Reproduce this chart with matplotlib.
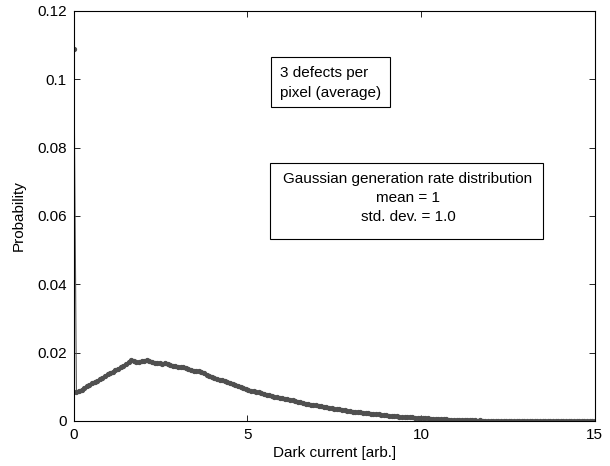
import numpy as np
import matplotlib.pyplot as plt
from matplotlib.patches import Rectangle

plt.rcParams['font.family'] = ['Liberation Sans', 'DejaVu Sans']
plt.rcParams['font.size'] = 11

# dark current histogram, bins of 0.075 from 0 to 15
bin_width = 0.075
prob = [
    0.1090, 0.0085, 0.0088, 0.0092, 0.0097, 0.0101, 0.0105, 0.0110, 0.0114, 0.0117,
    0.0122, 0.0127, 0.0131, 0.0137, 0.0140, 0.0144, 0.0149, 0.0152, 0.0158, 0.0161,
    0.0168, 0.0174, 0.0179, 0.0177, 0.0173, 0.0174, 0.0176, 0.0177, 0.0179, 0.0175,
    0.0172, 0.0171, 0.0170, 0.0169, 0.0168, 0.0169, 0.0166, 0.0164, 0.0162, 0.0161,
    0.0159, 0.0157, 0.0157, 0.0154, 0.0151, 0.0149, 0.0147, 0.0145, 0.0147, 0.0143,
    0.0139, 0.0135, 0.0132, 0.0129, 0.0127, 0.0124, 0.0121, 0.0119, 0.0116, 0.0114,
    0.0111, 0.0108, 0.0105, 0.0102, 0.0099, 0.0097, 0.0094, 0.0091, 0.0089, 0.0087,
    0.0086, 0.0084, 0.0082, 0.0079, 0.0077, 0.0075, 0.0073, 0.0071, 0.0070, 0.0068,
    0.0067, 0.0065, 0.0063, 0.0061, 0.0060, 0.0058, 0.0056, 0.0055, 0.0053, 0.0051,
    0.0050, 0.0048, 0.0047, 0.0046, 0.0044, 0.0043, 0.0042, 0.0041, 0.0039, 0.0038,
    0.0036, 0.0035, 0.0034, 0.0032, 0.0031, 0.0030, 0.0029, 0.0027, 0.0026, 0.0025,
    0.0025, 0.0024, 0.0023, 0.0022, 0.0021, 0.0021, 0.0019, 0.0019, 0.0018, 0.0017,
    0.0017, 0.0016, 0.0015, 0.0015, 0.0014, 0.0013, 0.0013, 0.0012, 0.0012, 0.0011,
    0.0011, 0.0010, 0.0010, 0.0009, 0.0009, 0.0008, 0.0008, 0.0007, 0.0007, 0.0006,
    0.0006, 0.0005, 0.0005, 0.0005, 0.0004, 0.0004, 0.0004, 0.0003, 0.0003, 0.0003,
    0.0002, 0.0002, 0.0002, 0.0002, 0.0002, 0.0001, 0.0002, 0.0001, 0.0001, 0.0001,
    0.0001, 0.0001, 0.0001, 0.0000, 0.0001, 0.0001, 0.0000, 0.0001, 0.0000, 0.0000,
    0.0001, 0.0000, 0.0000, 0.0000, 0.0000, 0.0000, 0.0000, 0.0000, 0.0000, 0.0000,
    0.0000, 0.0000, 0.0000, 0.0000, 0.0000, 0.0000, 0.0000, 0.0000, 0.0000, 0.0000,
    0.0000, 0.0000, 0.0000, 0.0000, 0.0000, 0.0000, 0.0000, 0.0000, 0.0000, 0.0000,
    0.0000,
]
current = np.arange(len(prob)) * bin_width

fig = plt.figure(figsize=(6.1, 4.66), dpi=100)
ax = fig.add_axes([0.121, 0.0966, 0.854, 0.8798])

ax.plot(current, prob, color='#5a5a5a', lw=0.8, marker='o', ms=2.8,
        mfc='#505050', mec='#505050')

ax.set_xlim(0, 15)
ax.set_ylim(0, 0.12)
ax.set_xticks([0, 5, 10, 15])
ax.set_yticks(np.arange(0, 0.121, 0.02))
ax.set_yticklabels(['0', '0.02', '0.04', '0.06', '0.08', '0.1', '0.12'])
ax.tick_params(direction='in', top=True, right=True, length=4, width=0.6, pad=5)
for s in ax.spines.values():
    s.set_linewidth(0.8)

ax.set_xlabel('Dark current [arb.]', labelpad=3)
ax.set_ylabel('Probability', labelpad=8)

# annotation boxes (figure coordinates)
fig.add_artist(Rectangle((0.4443, 0.7704), 0.195, 0.1073, transform=fig.transFigure,
                         fc='white', ec='black', lw=0.8))
fig.text(0.459, 0.8426, '3 defects per', ha='left', va='center')
fig.text(0.459, 0.7997, 'pixel (average)', ha='left', va='center')

fig.add_artist(Rectangle((0.4426, 0.4871), 0.4475, 0.1631, transform=fig.transFigure,
                         fc='white', ec='black', lw=0.8))
box_lines = ['Gaussian generation rate distribution', 'mean = 1', 'std. dev. = 1.0']
for k, line in enumerate(box_lines):
    fig.text(0.6689, 0.6159 - k * 0.0408, line, ha='center', va='center')

fig.savefig('out.png', dpi=100)
